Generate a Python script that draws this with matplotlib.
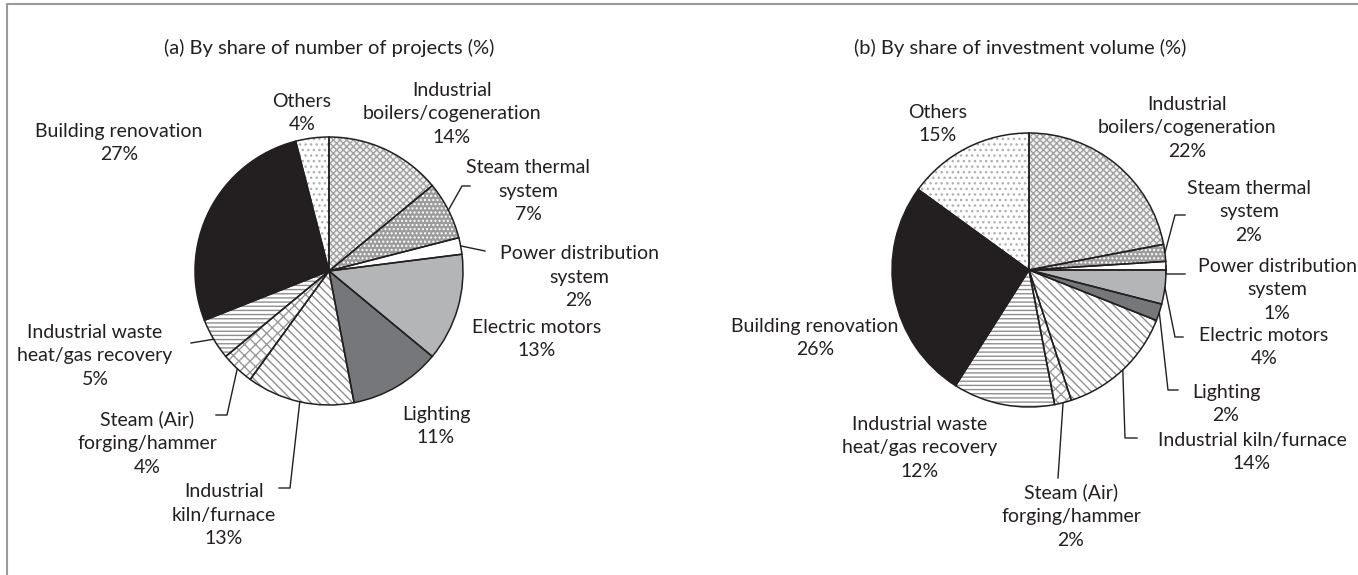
import numpy as np
import matplotlib.pyplot as plt

plt.rcParams['font.family'] = ['Lato', 'DejaVu Sans']

# data
labels_a = ["Industrial\nboilers/cogeneration", "Steam thermal\nsystem", "Power distribution\nsystem",
            "Electric motors", "Lighting", "Industrial\nkiln/furnace", "Steam (Air)\nforging/hammer",
            "Industrial waste\nheat/gas recovery", "Building renovation", "Others"]
labels_b = ["Industrial\nboilers/cogeneration", "Steam thermal\nsystem", "Power distribution\nsystem",
            "Electric motors", "Lighting", "Industrial kiln/furnace", "Steam (Air)\nforging/hammer",
            "Industrial waste\nheat/gas recovery", "Building renovation", "Others"]
projects_share = [14, 7, 2, 13, 11, 13, 4, 5, 27, 4]
investment_share = [22, 2, 1, 4, 2, 14, 2, 12, 26, 15]

# fill styles: face, hatch, hatch colour
styles = [
    ("#f2f2f2", "xxxxx", "#a0a0a0"),   # boilers
    ("#9c9c9c", "....", "#ffffff"),    # steam thermal
    ("#ffffff", None, "#ffffff"),      # power distribution
    ("#b3b5b7", None, "#b3b5b7"),      # electric motors
    ("#76777a", None, "#76777a"),      # lighting
    ("#ffffff", "\\\\\\\\", "#8f8f8f"),  # kiln
    ("#ffffff", "xxx", "#9a9a9a"),     # forging
    ("#ffffff", "----", "#8f8f8f"),    # waste heat
    ("#231f20", None, "#231f20"),      # building
    ("#ffffff", "...", "#b0b0b0"),     # others
]

ink = "#231f20"
FS = 14

fig = plt.figure(figsize=(13.58, 5.75), dpi=100)
ax = fig.add_axes([0, 0, 1, 1])


def draw_pie(values, labels, center, radius, label_pos, leaders):
    wedges, _ = ax.pie(values, center=center, radius=radius, startangle=-90, counterclock=True)
    for w, (face, hatch, hc) in zip(wedges, styles):
        w.set_facecolor(face)
        w.set_edgecolor(hc)
        w.set_linewidth(0)
        if hatch:
            w.set_hatch(hatch)
            if hasattr(w, "set_hatch_linewidth"):
                w.set_hatch_linewidth(1.0)
    ax.pie(values, center=center, radius=radius, startangle=-90, counterclock=True,
           wedgeprops=dict(facecolor="none", edgecolor=ink, linewidth=1.1))
    for i, w in enumerate(wedges):
        x, y = label_pos[i]
        ax.text(x, y, f"{labels[i]}\n{values[i]}%", ha="center", va="center",
                fontsize=FS, color=ink, linespacing=1.48)
        if i in leaders:
            mid = np.deg2rad((w.theta1 + w.theta2) / 2)
            ax_ = center[0] + radius * np.cos(mid)
            ay_ = center[1] + radius * np.sin(mid)
            pts = [(ax_, ay_)] + leaders[i]
            ax.plot([p[0] for p in pts], [p[1] for p in pts], color=ink, lw=1.0)


# (a) projects
pos_a = [(452, 114), (528, 191), (579, 277), (537, 339), (436, 426),
         (224, 515), (147, 443), (95, 356), (119, 143), (302, 113)]
lead_a = {
    1: [(462, 186), (470, 186)],
    2: [(485, 251)],
    5: [(290, 488), (279, 488)],
    6: [(227, 415), (216, 415)],
    7: [(191, 343)],
}
draw_pie(projects_share, labels_a, (329, 271), 134, pos_a, lead_a)

# (b) investment
pos_b = [(1187, 128), (1249, 212), (1277, 290), (1264, 347), (1226, 404),
         (1252, 452), (1071, 516), (920, 448), (815, 338), (938, 124)]
lead_b = {
    1: [(1175, 215), (1185, 215)],
    2: [(1166, 274), (1185, 274)],
    3: [(1175, 337), (1183, 337)],
    4: [(1168, 390), (1178, 390)],
    5: [(1125, 438), (1137, 438)],
    6: [(1058, 478)],
}
draw_pie(investment_share, labels_b, (1029, 270), 137, pos_b, lead_b)

ax.text(329, 48, "(a) By share of number of projects (%)", ha="center", va="center", fontsize=14.5, color=ink)
ax.text(1020, 48, "(b) By share of investment volume (%)", ha="center", va="center", fontsize=14.5, color=ink)

# outer frame
ax.plot([7, 7, 1358], [575, 4, 4], color="#9a9a9a", lw=1.5, solid_capstyle="butt")

ax.set_xlim(0, 1358)
ax.set_ylim(575, 0)
ax.set_aspect("equal")
ax.axis("off")

fig.savefig("out.png", dpi=100)
